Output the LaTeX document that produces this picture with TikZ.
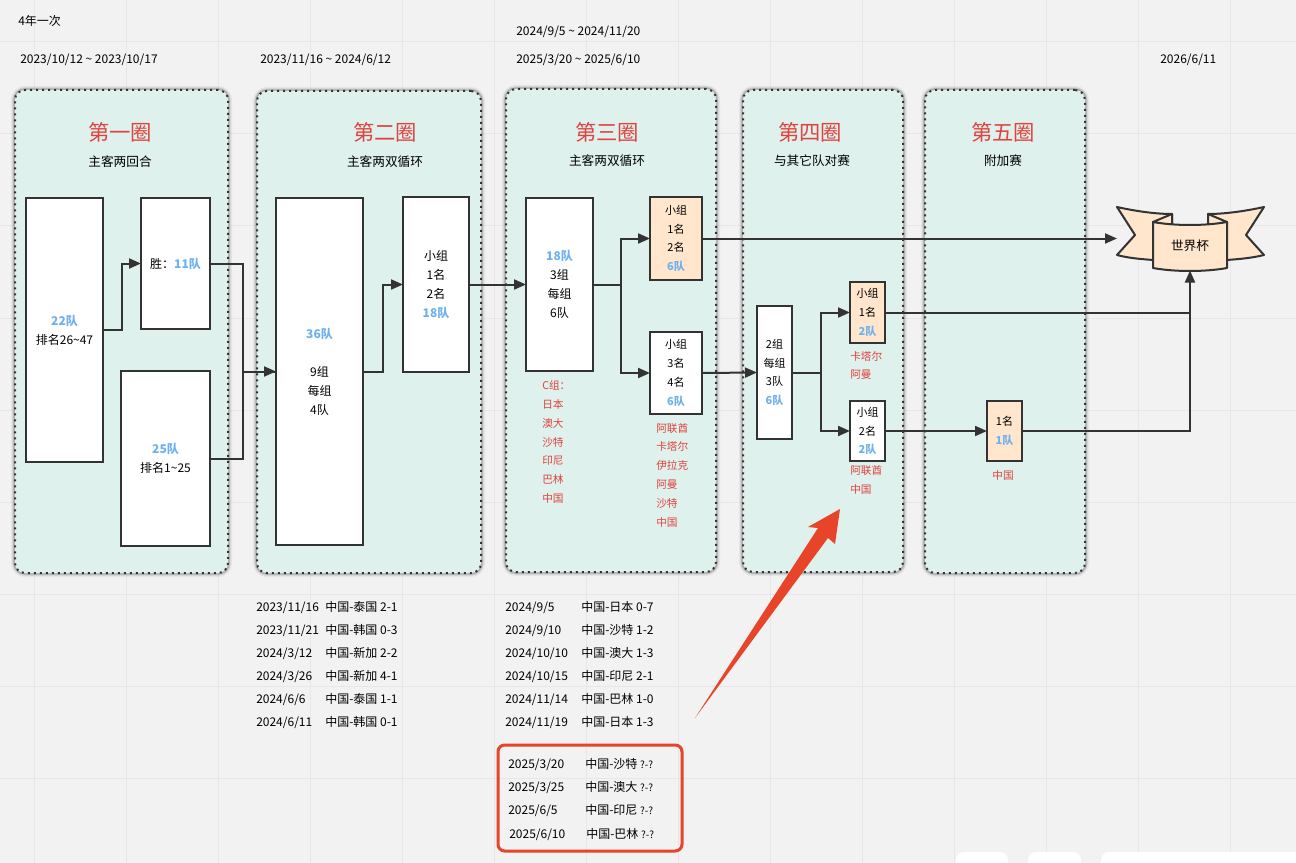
\documentclass[tikz,border=0pt]{standalone}
\usepackage{fontspec}
\setmainfont{Noto Sans CJK SC}
\usetikzlibrary{arrows.meta}

\definecolor{canvasgray}{HTML}{F2F2F2}
\definecolor{gridgray}{HTML}{E7E7E7}
\definecolor{roundgreen}{HTML}{DFF1EC}
\definecolor{inkgray}{HTML}{333333}
\definecolor{titlered}{HTML}{E0423F}
\definecolor{teamblue}{HTML}{6FB1EE}
\definecolor{qualorange}{HTML}{FFE6CC}
\definecolor{markred}{HTML}{E8442A}

\newcommand{\teams}[1]{\textcolor{teamblue}{\bfseries #1}}

\tikzset{
    boxsize/.style 2 args={minimum width=#1*0.75pt,minimum height=#2*0.75pt},
    roundframe/.style={outer sep=0pt,fill=roundgreen,draw=inkgray,rounded corners=7.5pt,line width=1.5pt,
        dash pattern=on 1.5pt off 3pt,
        preaction={draw=black,solid,opacity=0.05,line width=6pt},
        preaction={draw=black,solid,opacity=0.10,line width=4pt},
        preaction={draw=black,solid,opacity=0.15,line width=2.5pt}},
    roundtitle/.style={text=titlered,font=\fontsize{16}{18}\selectfont},
    roundsub/.style={text=black,font=\fontsize{9.5}{12}\selectfont},
    stagebox/.style={outer sep=0pt,inner sep=0pt,fill=white,draw=inkgray,line width=1.5pt,align=center,
        font=\fontsize{9}{14.25}\selectfont},
    smallbox/.style={stagebox,font=\fontsize{8.25}{14.1}\selectfont},
    qualbox/.style={smallbox,fill=qualorange},
    redlist/.style={text=titlered,align=left,inner sep=0pt,font=\fontsize{8}{14.1}\selectfont},
    toplabel/.style={anchor=west,inner sep=0pt,font=\fontsize{9}{11}\selectfont},
    rowlabel/.style={anchor=west,inner sep=0pt,text height=8pt,text depth=2pt,font=\fontsize{9}{11}\selectfont},
    flow/.style={draw=inkgray,line width=1.5pt},
    link/.style={flow,-{Triangle[length=9pt,width=7.5pt]}},
}

\begin{document}
\begin{tikzpicture}[x=0.75pt,y=-0.75pt]
    \useasboundingbox (0,0) rectangle (1296,863);

    % Canvas and grid
    \fill[canvasgray] (0,0) rectangle (1296,863);
    \foreach \gx in {34,126,...,1230}
        \draw[gridgray,line width=0.75pt] (\gx,0) -- (\gx,863);
    \foreach \gy in {42,134,...,778}
        \draw[gridgray,line width=0.75pt] (0,\gy) -- (1296,\gy);

    % Toolbar tabs at the bottom edge
    \fill[white,rounded corners=6pt] (956,852) rectangle (1008,880);
    \fill[white,rounded corners=6pt] (1028,852) rectangle (1081,880);
    \fill[white,rounded corners=6pt] (1101,852) rectangle (1320,880);

    % Dates above the rounds
    \node[toplabel] (every4) at (18,21) {4年一次};
    \node[toplabel] (date1) at (20,60) {2023/10/12 \textasciitilde{} 2023/10/17};
    \node[toplabel] (date2) at (260,60) {2023/11/16 \textasciitilde{} 2024/6/12};
    \node[toplabel] (date3a) at (516,32) {2024/9/5 \textasciitilde{} 2024/11/20};
    \node[toplabel] (date3b) at (516,60) {2025/3/20 \textasciitilde{} 2025/6/10};
    \node[toplabel] (date5) at (1160,60) {2026/6/11};

    % Round frames
    \node[roundframe,boxsize={213}{483}] (round1) at (121.5,331.5) {};
    \node[roundframe,boxsize={224}{482}] (round2) at (369,332) {};
    \node[roundframe,boxsize={210}{483}] (round3) at (611,330.5) {};
    \node[roundframe,boxsize={160}{482}] (round4) at (823,331) {};
    \node[roundframe,boxsize={160}{483}] (round5) at (1005,331.5) {};

    % Round titles
    \node[roundtitle] (title1) at (120,132) {第一圈};
    \node[roundsub] (sub1) at (120,162) {主客两回合};
    \node[roundtitle] (title2) at (385,132) {第二圈};
    \node[roundsub] (sub2) at (385,162) {主客两双循环};
    \node[roundtitle] (title3) at (607,132) {第三圈};
    \node[roundsub] (sub3) at (607,161) {主客两双循环};
    \node[roundtitle] (title4) at (810,132) {第四圈};
    \node[roundsub] (sub4) at (812,161) {与其它队对赛};
    \node[roundtitle] (title5) at (1003,132) {第五圈};
    \node[roundsub] (sub5) at (1003,161) {附加赛};

    % Round 1
    \node[stagebox,boxsize={77}{264}] (entry1) at (64.5,330) {\teams{22队}\\排名26\textasciitilde47};
    \node[stagebox,boxsize={69}{131}] (win1) at (175.5,263.5) {胜：\teams{11队}};
    \node[stagebox,boxsize={89}{175}] (seed1) at (165.5,458.5) {\teams{25队}\\排名1\textasciitilde25};

    % Round 2
    \node[stagebox,boxsize={87}{347}] (entry2) at (319.5,371.5) {\teams{36队}\\[14.25pt]9组\\每组\\4队};
    \node[stagebox,boxsize={66}{175}] (top2) at (436,284.5) {小组\\1名\\2名\\\teams{18队}};

    % Round 3
    \node[stagebox,boxsize={67}{173}] (entry3) at (559.5,284.5) {\teams{18队}\\3组\\每组\\6队};
    \node[qualbox,boxsize={52}{83}] (top3) at (676,238.5) {小组\\1名\\2名\\\teams{6队}};
    \node[smallbox,boxsize={52}{82}] (mid3) at (676,373) {小组\\3名\\4名\\\teams{6队}};
    \node[redlist,anchor=west] (groupc) at (542,442) {C组：\\日本\\澳大\\沙特\\印尼\\巴林\\中国};
    \node[redlist,anchor=west] (groupmid) at (656,475) {阿联酋\\卡塔尔\\伊拉克\\阿曼\\沙特\\中国};

    % Round 4
    \node[smallbox,boxsize={35}{133}] (entry4) at (774.5,372.5) {2组\\每组\\3队\\\teams{6队}};
    \node[qualbox,boxsize={35}{61}] (top4) at (867.5,312.5) {小组\\1名\\\teams{2队}};
    \node[smallbox,boxsize={35}{60}] (mid4) at (867.5,431) {小组\\2名\\\teams{2队}};
    \node[redlist,anchor=west] (grouptop4) at (850,365.5) {卡塔尔\\阿曼};
    \node[redlist,anchor=west] (groupmid4) at (850,480) {阿联酋\\中国};

    % Round 5
    \node[qualbox,boxsize={35}{60}] (play5) at (1004.5,431) {1名\\\teams{1队}};
    \node[redlist] (china5) at (1003,475) {中国};

    % World Cup banner
    \draw[inkgray,line width=1.5pt,line join=round,fill=qualorange] (1117,207) .. controls (1135,211) and (1155,214) .. (1172,214) -- (1172,232) -- (1153,260) .. controls (1140,259) and (1128,258) .. (1117,255) -- (1135,235) -- cycle;
    \draw[inkgray,line width=1.5pt,line join=round,fill=qualorange] (1264,207) .. controls (1246,211) and (1225,214) .. (1208,214) -- (1208,232) -- (1227,260) .. controls (1240,259) and (1252,258) .. (1264,255) -- (1246,235) -- cycle;
    \draw[inkgray,line width=1.5pt,line join=round,fill=qualorange] (1172,214) -- (1153,222) -- (1172,226) -- cycle;
    \draw[inkgray,line width=1.5pt,line join=round,fill=qualorange] (1208,214) -- (1227,222) -- (1208,226) -- cycle;
    \draw[inkgray,line width=1.5pt,line join=round,fill=qualorange] (1153,222) .. controls (1175,226) and (1205,226) .. (1227,222) -- (1227,268) .. controls (1205,272) and (1175,272) .. (1153,268) -- cycle;
    \node[roundsub] (cup) at (1190,246) {世界杯};
    \coordinate (cupleft) at (1117,238.5);
    \coordinate (cupbottom) at (1190,270.5);

    % Connectors
    \draw[link] (entry1.east) -- ++(19,0) |- (win1.west);
    \draw[flow] (win1.east) -- ++(33,0) |- (entry2.west);
    \draw[flow] (seed1.east) -- ++(33,0) |- (entry2.west);
    \draw[link] (seed1.east -| entry2.west) ++(-33,-87) -- (entry2.west);
    \draw[link] (entry2.east) -- ++(20,0) |- (top2.west);
    \draw[link] (top2.east) -- (entry3.west);
    \draw[link] (entry3.east) -- ++(28,0) |- (top3.west);
    \draw[link] (entry3.east) -- ++(28,0) |- (mid3.west);
    \draw[link] (top3.east) -- (cupleft);
    \draw[link] (mid3.east) -- (entry4.west);
    \draw[link] (entry4.east) -- ++(29,0) |- (top4.west);
    \draw[link] (entry4.east) -- ++(29,0) |- (mid4.west);
    \draw[flow] (top4.east) -- (top4.east -| cupbottom);
    \draw[link] (mid4.east) -- (play5.west);
    \draw[link] (play5.east) -| (cupbottom);

    % Fixtures of round 2
    \foreach \i/\d/\m in {1/2023\slash 11\slash 16/泰国 2-1,2/2023\slash 11\slash 21/韩国 0-3,3/2024\slash 3\slash 12/新加 2-2,4/2024\slash 3\slash 26/新加 4-1,5/2024\slash 6\slash 6/泰国 1-1,6/2024\slash 6\slash 11/韩国 0-1} {
        \node[rowlabel] (dateb\i) at (256,584+23*\i) {\d};
        \node[rowlabel] (gameb\i) at (325,584+23*\i) {中国-\m};
    }

    % Fixtures of round 3
    \foreach \i/\d/\m in {1/2024\slash 9\slash 5/日本 0-7,2/2024\slash 9\slash 10/沙特 1-2,3/2024\slash 10\slash 10/澳大 1-3,4/2024\slash 10\slash 15/印尼 2-1,5/2024\slash 11\slash 14/巴林 1-0,6/2024\slash 11\slash 19/日本 1-3} {
        \node[rowlabel] (datec\i) at (505,584+23*\i) {\d};
        \node[rowlabel] (gamec\i) at (581,584+23*\i) {中国-\m};
    }

    % Remaining fixtures
    \draw[markred,line width=2.25pt,rounded corners=5pt] (498,745) rectangle (682,851);
    \foreach \i/\x/\y/\d/\m in {1/508/764/2025\slash 3\slash 20/沙特,2/508/787/2025\slash 3\slash 25/澳大,3/508/810/2025\slash 6\slash 5/印尼,4/509/834/2025\slash 6\slash 10/巴林} {
        \node[rowlabel] (dated\i) at (\x,\y) {\d};
        \node[rowlabel] (gamed\i) at (\x+77,\y) {中国-\m\ {\fontsize{7.5}{9}\selectfont ?-?}};
    }

    % Red pointer
    \fill[markred] (695,718) -- (818,528) -- (808,527) -- (840,509) -- (835,544) -- (828,538) -- cycle;
\end{tikzpicture}
\end{document}
